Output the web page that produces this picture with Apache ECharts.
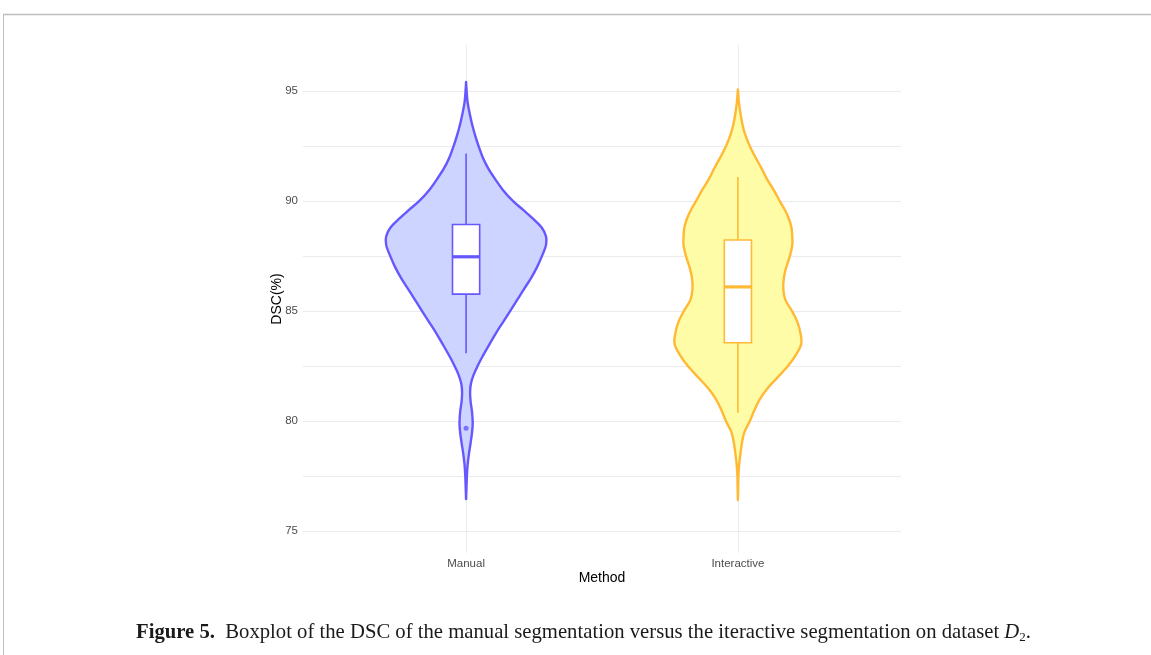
<!DOCTYPE html>
<html>
<head>
<meta charset="utf-8">
<script src="https://cdn.jsdelivr.net/npm/echarts@6/dist/echarts.min.js"></script>
<style>
	html, body { margin: 0; padding: 0; background: #fff; }
	#chart_violin { width: 1151px; height: 655px; }
</style>
</head>
<body>
<div id="chart_violin"></div>
<script>
// categories
var methods = ['Manual', 'Interactive'];

// violin outlines: DSC value and half width (in category units)
var manualDsc = [76.45, 77.0, 77.5, 78.0, 78.5, 79.0, 79.5, 79.9, 80.4, 80.9,
	81.3, 81.7, 82.1, 82.5, 82.9, 83.5, 84.0, 84.5, 85.0, 85.5,
	86.0, 86.5, 87.0, 87.5, 88.0, 88.4, 88.8, 89.2, 89.6, 90.0,
	90.5, 91.0, 91.5, 92.0, 92.5, 93.0, 93.5, 94.0, 94.5, 95.0, 95.42];
var manualDens = [0, 0.0015, 0.003, 0.0055, 0.0103, 0.0165, 0.022, 0.0243, 0.022, 0.0165,
	0.0147, 0.0176, 0.0276, 0.0423, 0.0588, 0.0864, 0.110, 0.136, 0.162, 0.1875,
	0.213, 0.239, 0.261, 0.279, 0.294, 0.294, 0.278, 0.246, 0.210, 0.173,
	0.136, 0.107, 0.081, 0.061, 0.046, 0.033, 0.022, 0.013, 0.0055, 0.002, 0];

var interDsc = [76.41, 77.0, 77.5, 78.0, 78.5, 79.0, 79.5, 80.0, 80.5, 81.0,
	81.5, 82.0, 82.5, 83.0, 83.5, 84.0, 84.5, 85.0, 85.5, 86.0,
	86.5, 87.0, 87.5, 88.0, 88.4, 88.8, 89.2, 89.6, 90.0, 90.5,
	91.0, 91.5, 92.0, 92.5, 93.0, 93.5, 94.0, 94.5, 95.08];
var interDens = [0, 0.0011, 0.0018, 0.0044, 0.0092, 0.0147, 0.0239, 0.0441, 0.0607, 0.0809,
	0.110, 0.147, 0.184, 0.213, 0.233, 0.230, 0.219, 0.199, 0.175, 0.167,
	0.169, 0.178, 0.191, 0.200, 0.200, 0.197, 0.1875, 0.173, 0.154, 0.132,
	0.107, 0.0864, 0.0643, 0.044, 0.0276, 0.0165, 0.0092, 0.0037, 0];

// box stats: whisker low, q1, median, q3, whisker high
var boxStats = [
	[83.08, 85.77, 87.47, 88.94, 92.17],
	[80.38, 83.56, 86.10, 88.23, 91.10]
];
var outliers = [[1, 79.67]];

// axis ticks
var yLabelTicks = [75, 80, 85, 90, 95];
var yGridTicks = [75, 77.5, 80, 82.5, 85, 87.5, 90, 92.5, 95];
var xTicks = [1, 2];

var strokeColors = ['#6657ff', '#ffb935'];
var fillColors = ['#ccd4ff', '#fffca8'];

var violinData = [
	{dsc: manualDsc, dens: manualDens},
	{dsc: interDsc, dens: interDens}
];

// smooth curve through pixel points (catmull-rom as cubic bezier segments)
var curveTo = function(pts) {
	var d = '';
	var n = pts.length;
	for (var i = 0; i < n - 1; i++) {
		var p0 = pts[Math.max(i - 1, 0)];
		var p1 = pts[i];
		var p2 = pts[i + 1];
		var p3 = pts[Math.min(i + 2, n - 1)];
		var c1x = p1[0] + (p2[0] - p0[0]) / 6;
		var c1y = p1[1] + (p2[1] - p0[1]) / 6;
		var c2x = p2[0] - (p3[0] - p1[0]) / 6;
		var c2y = p2[1] - (p3[1] - p1[1]) / 6;
		d += ' C' + c1x.toFixed(2) + ',' + c1y.toFixed(2) + ' ' + c2x.toFixed(2) + ',' + c2y.toFixed(2) +
			' ' + p2[0].toFixed(2) + ',' + p2[1].toFixed(2);
	}
	return d;
};

var renderViolin = function(params, api) {
	var i = params.dataIndex;
	var pos = api.value(0);
	var v = violinData[i];
	var right = [], left = [];
	for (var k = 0; k < v.dsc.length; k++) {
		right.push(api.coord([pos + v.dens[k], v.dsc[k]]));
	}
	for (var k = v.dsc.length - 1; k >= 0; k--) {
		left.push(api.coord([pos - v.dens[k], v.dsc[k]]));
	}
	var d = 'M' + right[0][0].toFixed(2) + ',' + right[0][1].toFixed(2) + curveTo(right) + curveTo(left) + ' Z';
	return {
		type: 'path',
		shape: {pathData: d},
		style: {fill: fillColors[i], stroke: strokeColors[i], lineWidth: 2.4, lineJoin: 'round'}
	};
};

var renderBox = function(params, api) {
	var i = params.dataIndex;
	var pos = api.value(0);
	var s = boxStats[i];
	var hw = 0.05;
	var c = strokeColors[i];
	var lo = api.coord([pos, s[0]]);
	var q1l = api.coord([pos - hw, s[1]]);
	var q3r = api.coord([pos + hw, s[3]]);
	var medL = api.coord([pos - hw, s[2]]);
	var medR = api.coord([pos + hw, s[2]]);
	var q1c = api.coord([pos, s[1]]);
	var q3c = api.coord([pos, s[3]]);
	var hi = api.coord([pos, s[4]]);
	var lw = {stroke: c, lineWidth: 1.6};
	return {
		type: 'group',
		children: [
			{type: 'line', shape: {x1: lo[0], y1: lo[1], x2: q1c[0], y2: q1c[1]}, style: lw},
			{type: 'line', shape: {x1: q3c[0], y1: q3c[1], x2: hi[0], y2: hi[1]}, style: lw},
			{type: 'rect', shape: {x: q1l[0], y: q3r[1], width: q3r[0] - q1l[0], height: q1l[1] - q3r[1]},
				style: {fill: '#fff', stroke: c, lineWidth: 1.6}},
			{type: 'line', shape: {x1: medL[0], y1: medL[1], x2: medR[0], y2: medR[1]}, style: {stroke: c, lineWidth: 3.2}}
		]
	};
};

var chart_violin = echarts.init(document.getElementById('chart_violin'));

var option_violin = {
	animation: false,
	backgroundColor: '#fff',
	grid: {left: 303, right: 250, top: 45, bottom: 102},
	title: {
		text: '{b|Figure 5.}  Boxplot of the DSC of the manual segmentation versus the iteractive segmentation on dataset {i|D}{s|2}.',
		left: 131,
		top: 617,
		textStyle: {
			fontFamily: 'Liberation Serif',
			fontSize: 20.7,
			fontWeight: 'normal',
			color: '#1a1a1a',
			rich: {
				b: {fontFamily: 'Liberation Serif', fontSize: 20.7, fontWeight: 'bold', color: '#1a1a1a'},
				i: {fontFamily: 'Liberation Serif', fontSize: 20.7, fontStyle: 'italic', color: '#1a1a1a'},
				s: {fontFamily: 'Liberation Serif', fontSize: 13, color: '#1a1a1a', padding: [9, 0, 0, 0]}
			}
		}
	},
	graphic: [
		{type: 'line', shape: {x1: 3, y1: 14.5, x2: 1151, y2: 14.5}, style: {stroke: '#bdbdbd', lineWidth: 1.5}},
		{type: 'line', shape: {x1: 3.5, y1: 14, x2: 3.5, y2: 655}, style: {stroke: '#bdbdbd', lineWidth: 1}}
	],
	xAxis: {
		type: 'value',
		min: 0.4,
		max: 2.6,
		name: 'Method',
		nameLocation: 'middle',
		nameGap: 18,
		nameMoveOverlap: false,
		nameTextStyle: {fontFamily: 'Liberation Sans', fontSize: 14, color: '#000', verticalAlign: 'top'},
		axisLine: {show: false},
		axisTick: {show: false, customValues: xTicks},
		axisLabel: {
			customValues: xTicks,
			margin: 5,
			fontFamily: 'Liberation Sans',
			fontSize: 11.5,
			color: '#4d4d4d',
			formatter: function(v) { return methods[Math.round(v) - 1]; }
		},
		splitLine: {show: true, lineStyle: {color: '#ebebeb', width: 1}}
	},
	yAxis: {
		type: 'value',
		min: 74,
		max: 97.1,
		name: 'DSC(%)',
		nameLocation: 'middle',
		nameGap: 19,
		nameMoveOverlap: false,
		nameTextStyle: {fontFamily: 'Liberation Sans', fontSize: 14, color: '#000'},
		axisLine: {show: false},
		axisTick: {show: false, customValues: yGridTicks},
		axisLabel: {
			customValues: yLabelTicks,
			margin: 5,
			fontFamily: 'Liberation Sans',
			fontSize: 11.5,
			color: '#4d4d4d'
		},
		splitLine: {show: true, lineStyle: {color: '#ebebeb', width: 1}}
	},
	series: [
		{
			name: 'violin',
			type: 'custom',
			renderItem: renderViolin,
			data: [[1], [2]],
			z: 2
		},
		{
			name: 'box',
			type: 'custom',
			renderItem: renderBox,
			data: [[1], [2]],
			z: 3
		},
		{
			name: 'outlier',
			type: 'scatter',
			data: outliers,
			symbolSize: 5,
			itemStyle: {color: strokeColors[0]},
			z: 4
		}
	]
};

chart_violin.setOption(option_violin, true);
</script>
</body>
</html>
